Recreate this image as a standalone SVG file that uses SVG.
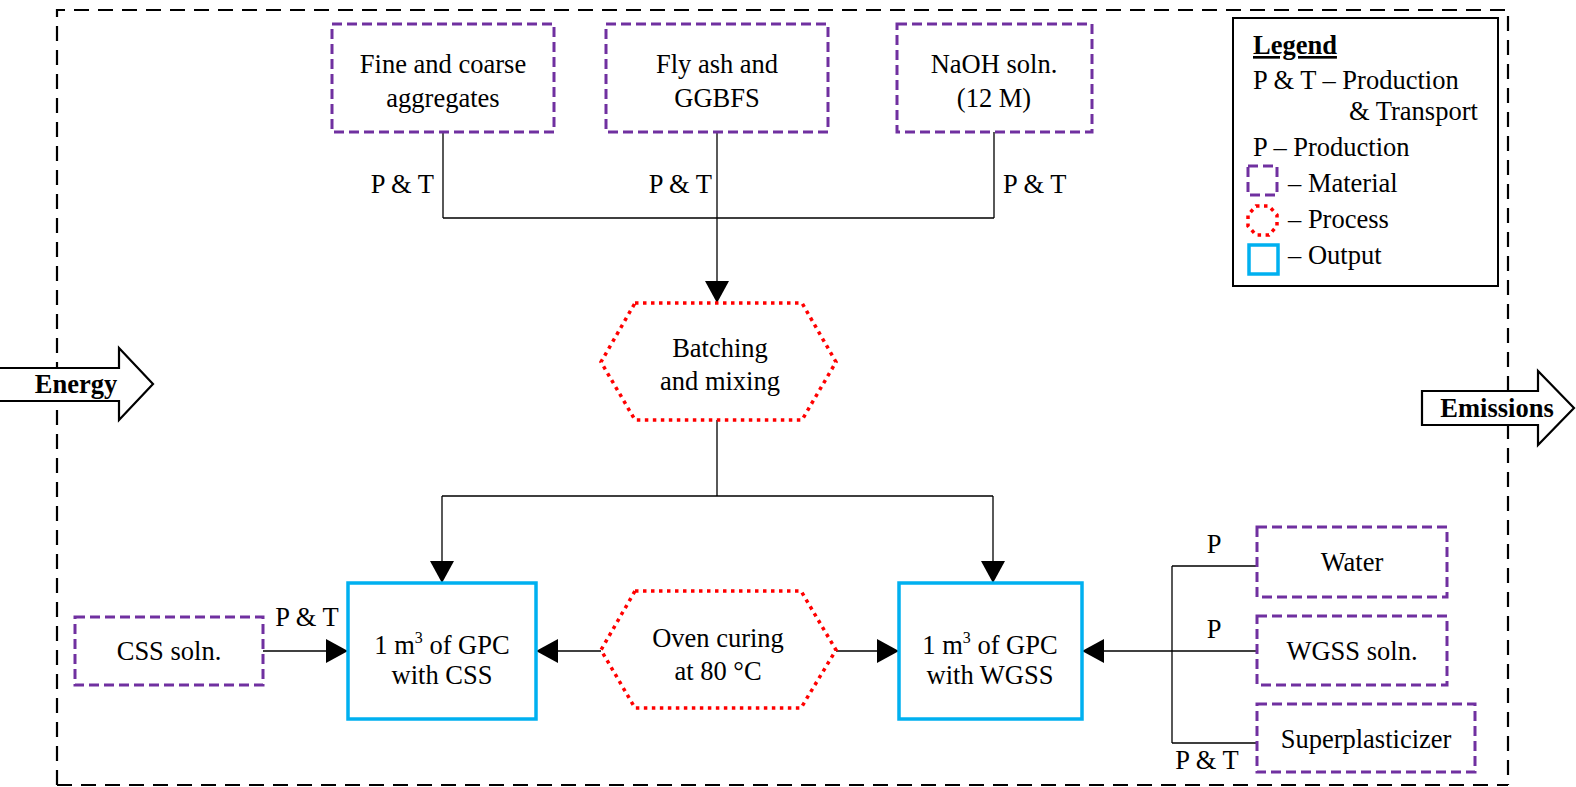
<svg xmlns="http://www.w3.org/2000/svg" width="1576" height="787" viewBox="0 0 1576 787">
  <style>
    text { font-family: "Liberation Serif", "Times New Roman", serif; font-size: 26.5px; fill: #000; }
    .c { text-anchor: middle; }
    .b { font-weight: bold; }
    .material { fill: none; stroke: #7030A0; stroke-width: 3; stroke-dasharray: 10 5; }
    .process { fill: none; stroke: #FF0000; stroke-width: 3.5; stroke-dasharray: 3.5 4.5; }
    .output { fill: none; stroke: #00B0F0; stroke-width: 3.5; }
    .wire { fill: none; stroke: #000; stroke-width: 1.3; }
    .bound { fill: none; stroke: #000; stroke-width: 2.2; stroke-dasharray: 15 9; }
    .flow { fill: #fff; stroke: #000; stroke-width: 2.2; }
  </style>
  <defs>
    <marker id="tri" viewBox="0 0 22 24" refX="22" refY="12" markerWidth="22" markerHeight="24" markerUnits="userSpaceOnUse" orient="auto">
      <path d="M0,0 L22,12 L0,24 Z" fill="#000"/>
    </marker>
  </defs>

  <!-- system boundary -->
  <g id="boundary">
    <path class="bound" d="M57,785 L57,10 L1508,10 L1508,785"/>
    <path class="bound" d="M57,785 L1508,785" stroke="#888"/>
  </g>

  <!-- energy in / emissions out -->
  <g id="energy">
    <path class="flow" d="M0,368 L119,368 L119,348 L153,384 L119,420 L119,401 L0,401"/>
    <text class="b c" x="76" y="393">Energy</text>
  </g>
  <g id="emissions">
    <path class="flow" d="M1422,391 L1538,391 L1538,371 L1574,408 L1538,445 L1538,425 L1422,425 Z"/>
    <text class="b c" x="1497" y="417">Emissions</text>
  </g>

  <!-- connectors -->
  <g id="connectors">
    <path class="wire" d="M443,132 V218 M994,132 V218 M443,218 H994"/>
    <path class="wire" d="M717,132 V303" marker-end="url(#tri)"/>
    <path class="wire" d="M717,420 V496 M442,496 H993"/>
    <path class="wire" d="M442,496 V583" marker-end="url(#tri)"/>
    <path class="wire" d="M993,496 V583" marker-end="url(#tri)"/>
    <path class="wire" d="M263,651 H348" marker-end="url(#tri)"/>
    <path class="wire" d="M601,651 H536" marker-end="url(#tri)"/>
    <path class="wire" d="M836,651 H899" marker-end="url(#tri)"/>
    <path class="wire" d="M1172,566 V743 M1172,566 H1257 M1172,743 H1257"/>
    <path class="wire" d="M1257,651 H1082" marker-end="url(#tri)"/>
    <text x="434" y="193" text-anchor="end">P &amp; T</text>
    <text x="712" y="193" text-anchor="end">P &amp; T</text>
    <text x="1003" y="193">P &amp; T</text>
    <text class="c" x="307" y="626">P &amp; T</text>
    <text class="c" x="1214" y="553">P</text>
    <text class="c" x="1214" y="638">P</text>
    <text class="c" x="1207" y="769">P &amp; T</text>
  </g>

  <!-- materials -->
  <g id="aggregates">
    <rect class="material" x="332" y="24" width="222" height="108"/>
    <text class="c" x="443" y="73">Fine and coarse</text>
    <text class="c" x="443" y="107">aggregates</text>
  </g>
  <g id="flyash">
    <rect class="material" x="606" y="24" width="222" height="108"/>
    <text class="c" x="717" y="73">Fly ash and</text>
    <text class="c" x="717" y="107">GGBFS</text>
  </g>
  <g id="naoh">
    <rect class="material" x="897" y="24" width="195" height="108"/>
    <text class="c" x="994" y="73">NaOH soln.</text>
    <text class="c" x="994" y="107">(12 M)</text>
  </g>
  <g id="css">
    <rect class="material" x="75" y="617" width="188" height="68"/>
    <text class="c" x="169" y="660">CSS soln.</text>
  </g>
  <g id="water">
    <rect class="material" x="1257" y="527" width="190" height="70"/>
    <text class="c" x="1352" y="571">Water</text>
  </g>
  <g id="wgss">
    <rect class="material" x="1257" y="616" width="190" height="69"/>
    <text class="c" x="1352" y="660">WGSS soln.</text>
  </g>
  <g id="superplasticizer">
    <rect class="material" x="1257" y="704" width="218" height="68"/>
    <text class="c" x="1366" y="748">Superplasticizer</text>
  </g>

  <!-- processes -->
  <g id="batching">
    <path class="process" d="M635,303 L802,303 L836,362 L802,420 L635,420 L601,362 Z"/>
    <text class="c" x="720" y="357">Batching</text>
    <text class="c" x="720" y="390">and mixing</text>
  </g>
  <g id="oven">
    <path class="process" d="M635,591 L801,591 L836,650 L801,708 L635,708 L601,650 Z"/>
    <text class="c" x="718" y="647">Oven curing</text>
    <text class="c" x="718" y="680">at 80 °C</text>
  </g>

  <!-- outputs -->
  <g id="gpc-css">
    <rect class="output" x="348" y="583" width="188" height="136"/>
    <text class="c" x="442" y="654">1 m<tspan font-size="16" dy="-11">3</tspan><tspan dy="11"> of GPC</tspan></text>
    <text class="c" x="442" y="684">with CSS</text>
  </g>
  <g id="gpc-wgss">
    <rect class="output" x="899" y="583" width="183" height="136"/>
    <text class="c" x="990" y="654">1 m<tspan font-size="16" dy="-11">3</tspan><tspan dy="11"> of GPC</tspan></text>
    <text class="c" x="990" y="684">with WGSS</text>
  </g>

  <!-- legend -->
  <g id="legend">
    <rect x="1233" y="18" width="265" height="268" fill="#fff" stroke="#000" stroke-width="2"/>
    <text class="b" x="1253" y="54" text-decoration="underline">Legend</text>
    <text x="1253" y="89">P &amp; T – Production</text>
    <text x="1349" y="120">&amp; Transport</text>
    <text x="1253" y="156">P – Production</text>
    <rect class="material" x="1248" y="166" width="29" height="29"/>
    <text x="1288" y="192">– Material</text>
    <path class="process" d="M1256,206 L1269,206 L1277,215 L1277,226 L1269,235 L1256,235 L1248,226 L1248,215 Z"/>
    <text x="1288" y="228">– Process</text>
    <rect class="output" x="1249" y="245" width="29" height="29"/>
    <text x="1288" y="264">– Output</text>
  </g>
</svg>
